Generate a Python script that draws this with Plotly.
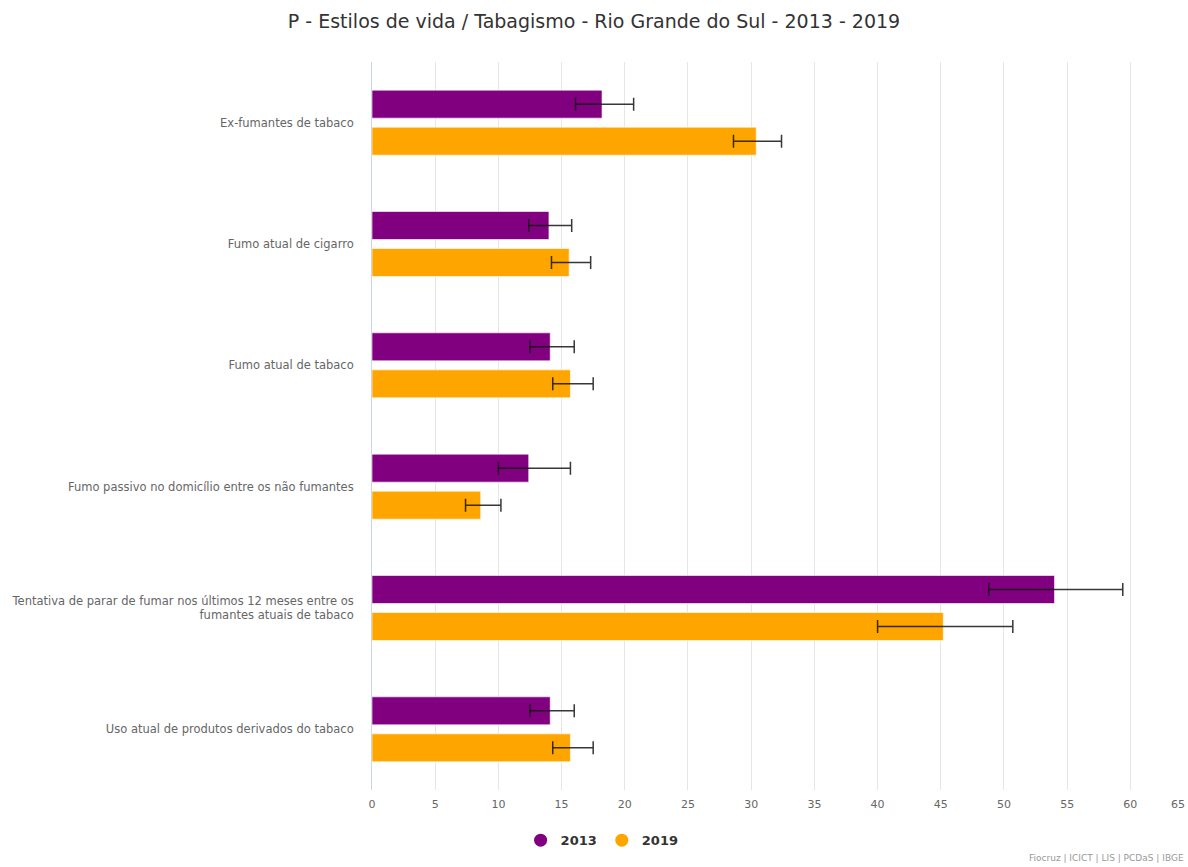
import plotly.graph_objects as go

# Indicators (top to bottom) and prevalence estimates with 95% CI
categories = [
    "Ex-fumantes de tabaco",
    "Fumo atual de cigarro",
    "Fumo atual de tabaco",
    "Fumo passivo no domicílio entre os não fumantes",
    "Tentativa de parar de fumar nos últimos 12 meses entre os<br>fumantes atuais de tabaco",
    "Uso atual de produtos derivados do tabaco",
]

values_2013 = [18.2, 14.0, 14.1, 12.4, 54.0, 14.1]
low_2013 = [16.1, 12.4, 12.5, 10.0, 48.8, 12.5]
high_2013 = [20.7, 15.8, 16.0, 15.7, 59.4, 16.0]

values_2019 = [30.4, 15.6, 15.7, 8.6, 45.2, 15.7]
low_2019 = [28.6, 14.2, 14.3, 7.4, 40.0, 14.3]
high_2019 = [32.4, 17.3, 17.5, 10.2, 50.7, 17.5]

x_ticks = list(range(0, 65, 5))

FONT = "DejaVu Sans"
C2013 = "#800080"
C2019 = "#FFA500"


def err(vals, lo, hi):
    return dict(
        type="data",
        symmetric=False,
        array=[h - v for v, h in zip(vals, hi)],
        arrayminus=[v - l for v, l in zip(vals, lo)],
        color="rgba(20,20,20,0.85)",
        thickness=1.5,
        width=6.5,
    )


fig = go.Figure()
fig.add_trace(go.Bar(
    name="2013", y=categories, x=values_2013, orientation="h",
    marker=dict(color=C2013, line=dict(color="rgba(255,255,255,0.6)", width=1)),
    error_x=err(values_2013, low_2013, high_2013),
    legendgroup="2013", showlegend=False,
))
fig.add_trace(go.Bar(
    name="2019", y=categories, x=values_2019, orientation="h",
    marker=dict(color=C2019, line=dict(color="rgba(255,255,255,0.6)", width=1)),
    error_x=err(values_2019, low_2019, high_2019),
    legendgroup="2019", showlegend=False,
))

# Round legend symbols
for name, col in (("2013", C2013), ("2019", C2019)):
    fig.add_trace(go.Scatter(
        x=[None], y=[None], mode="markers", name=name, legendgroup=name,
        marker=dict(symbol="circle", size=13, color=col),
    ))

fig.update_layout(
    width=1188, height=867,
    margin=dict(l=372, r=0, t=62, b=77),
    paper_bgcolor="white", plot_bgcolor="white",
    font=dict(family=FONT, color="#666666", size=11),
    title=dict(
        text="P - Estilos de vida / Tabagismo - Rio Grande do Sul - 2013 - 2019",
        x=0.5, xref="container", xanchor="center",
        y=0.975, yref="container", yanchor="middle",
        font=dict(family=FONT, size=19, color="#333333"),
    ),
    barmode="group", bargap=0.39, bargroupgap=0.243,
    showlegend=True,
    legend=dict(
        orientation="h", x=0.282, xanchor="center", y=-0.069, yanchor="middle",
        font=dict(family=FONT, size=13, color="#333333", weight="bold"),
        itemwidth=30, traceorder="normal",
    ),
    xaxis=dict(
        range=[0, 64.56], tickvals=x_ticks,
        showgrid=True, gridcolor="#e6e6e6", gridwidth=1,
        zeroline=False, showline=False, ticks="",
        ticklabelstandoff=6,
        tickfont=dict(family=FONT, size=11, color="#666666"),
    ),
    yaxis=dict(
        autorange="reversed", showgrid=False, zeroline=False,
        showline=True, linecolor="#ccd6eb", linewidth=1, ticks="",
        ticklabelstandoff=15,
        tickfont=dict(family=FONT, size=11.5, color="#666666"),
    ),
    annotations=[
        dict(text="65", xref="paper", yref="paper", x=1.0, y=0,
             xanchor="right", yanchor="top", yshift=-6, xshift=-1, showarrow=False,
             font=dict(family=FONT, size=11, color="#666666")),
        dict(text="Fiocruz | ICICT | LIS | PCDaS | IBGE", xref="paper", yref="paper",
             x=1.0, y=-0.094, xanchor="right", xshift=-2, yanchor="middle",
             showarrow=False, font=dict(family=FONT, size=9, color="#999999")),
    ],
)

fig.write_html("out.html")
